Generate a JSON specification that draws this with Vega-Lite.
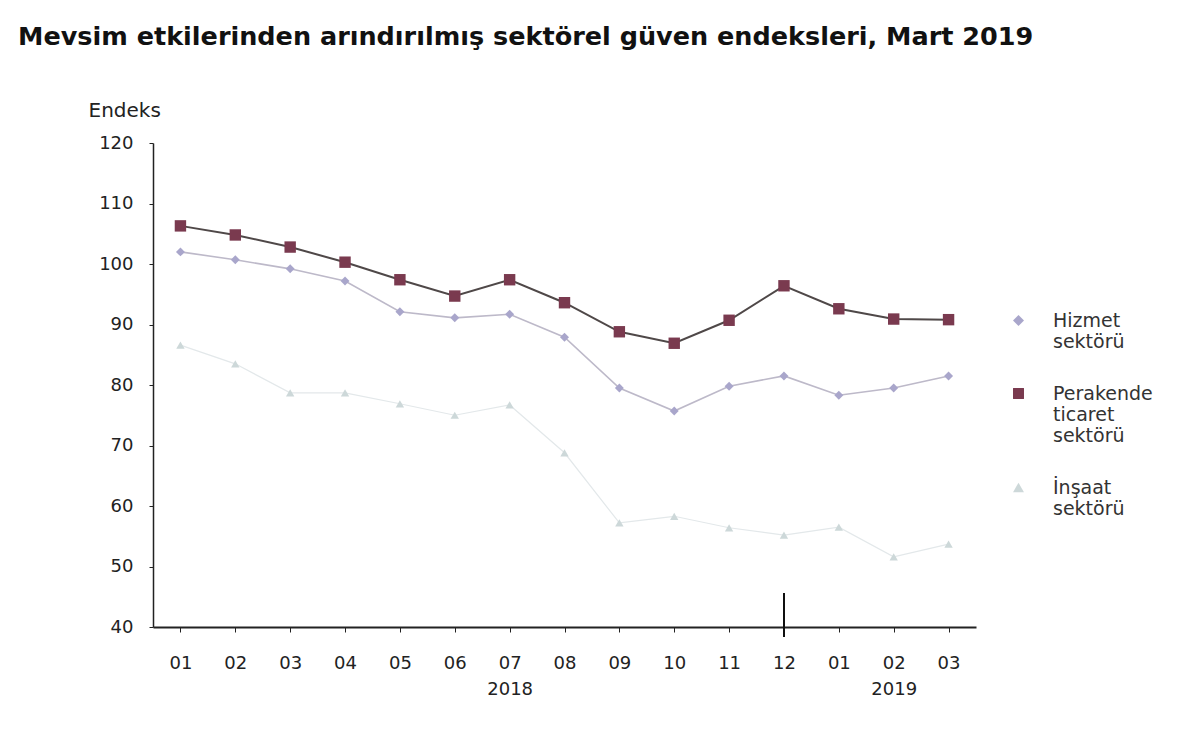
{
  "$schema": "https://vega.github.io/schema/vega-lite/v6.json",
  "autosize": {"type": "none"},
  "width": 823,
  "height": 484,
  "padding": {"left": 153, "top": 143, "right": 224, "bottom": 105},
  "background": "white",
  "title": {
    "text": "Mevsim etkilerinden arındırılmış sektörel güven endeksleri, Mart 2019",
    "anchor": "start",
    "frame": "group",
    "dx": -135,
    "offset": 50,
    "font": "DejaVu Sans",
    "fontSize": 25.5,
    "fontWeight": "bold",
    "color": "#111"
  },
  "config": {
    "view": {"stroke": null},
    "font": "DejaVu Sans"
  },
  "data": {
    "values": [
      {"m": "2018-01", "s": "Hizmet sektörü", "v": 102.0},
      {"m": "2018-02", "s": "Hizmet sektörü", "v": 100.7},
      {"m": "2018-03", "s": "Hizmet sektörü", "v": 99.2},
      {"m": "2018-04", "s": "Hizmet sektörü", "v": 97.2},
      {"m": "2018-05", "s": "Hizmet sektörü", "v": 92.1},
      {"m": "2018-06", "s": "Hizmet sektörü", "v": 91.1},
      {"m": "2018-07", "s": "Hizmet sektörü", "v": 91.7},
      {"m": "2018-08", "s": "Hizmet sektörü", "v": 87.9},
      {"m": "2018-09", "s": "Hizmet sektörü", "v": 79.5},
      {"m": "2018-10", "s": "Hizmet sektörü", "v": 75.7},
      {"m": "2018-11", "s": "Hizmet sektörü", "v": 79.8},
      {"m": "2018-12", "s": "Hizmet sektörü", "v": 81.5},
      {"m": "2019-01", "s": "Hizmet sektörü", "v": 78.3},
      {"m": "2019-02", "s": "Hizmet sektörü", "v": 79.5},
      {"m": "2019-03", "s": "Hizmet sektörü", "v": 81.5},
      {"m": "2018-01", "s": "Perakende ticaret sektörü", "v": 106.3},
      {"m": "2018-02", "s": "Perakende ticaret sektörü", "v": 104.8},
      {"m": "2018-03", "s": "Perakende ticaret sektörü", "v": 102.8},
      {"m": "2018-04", "s": "Perakende ticaret sektörü", "v": 100.3},
      {"m": "2018-05", "s": "Perakende ticaret sektörü", "v": 97.4},
      {"m": "2018-06", "s": "Perakende ticaret sektörü", "v": 94.7},
      {"m": "2018-07", "s": "Perakende ticaret sektörü", "v": 97.4},
      {"m": "2018-08", "s": "Perakende ticaret sektörü", "v": 93.6},
      {"m": "2018-09", "s": "Perakende ticaret sektörü", "v": 88.8},
      {"m": "2018-10", "s": "Perakende ticaret sektörü", "v": 86.9},
      {"m": "2018-11", "s": "Perakende ticaret sektörü", "v": 90.7},
      {"m": "2018-12", "s": "Perakende ticaret sektörü", "v": 96.4},
      {"m": "2019-01", "s": "Perakende ticaret sektörü", "v": 92.6},
      {"m": "2019-02", "s": "Perakende ticaret sektörü", "v": 90.9},
      {"m": "2019-03", "s": "Perakende ticaret sektörü", "v": 90.8},
      {"m": "2018-01", "s": "İnşaat sektörü", "v": 86.6},
      {"m": "2018-02", "s": "İnşaat sektörü", "v": 83.5},
      {"m": "2018-03", "s": "İnşaat sektörü", "v": 78.7},
      {"m": "2018-04", "s": "İnşaat sektörü", "v": 78.7},
      {"m": "2018-05", "s": "İnşaat sektörü", "v": 76.9},
      {"m": "2018-06", "s": "İnşaat sektörü", "v": 75.0},
      {"m": "2018-07", "s": "İnşaat sektörü", "v": 76.7},
      {"m": "2018-08", "s": "İnşaat sektörü", "v": 68.8},
      {"m": "2018-09", "s": "İnşaat sektörü", "v": 57.2},
      {"m": "2018-10", "s": "İnşaat sektörü", "v": 58.3},
      {"m": "2018-11", "s": "İnşaat sektörü", "v": 56.4},
      {"m": "2018-12", "s": "İnşaat sektörü", "v": 55.2},
      {"m": "2019-01", "s": "İnşaat sektörü", "v": 56.5},
      {"m": "2019-02", "s": "İnşaat sektörü", "v": 51.6},
      {"m": "2019-03", "s": "İnşaat sektörü", "v": 53.7}
    ]
  },
  "encoding": {
    "x": {
      "field": "m",
      "type": "ordinal",
      "scale": {"type": "point", "padding": 0.5},
      "axis": {
        "title": null,
        "labelAngle": 0,
        "labelExpr": "datum.value == '2018-07' ? ['07', '2018'] : datum.value == '2019-02' ? ['02', '2019'] : slice(datum.value, 5)",
        "labelFontSize": 18,
        "labelColor": "#222",
        "labelLineHeight": 26,
        "labelPadding": 22,
        "tickSize": 5,
        "tickColor": "#222",
        "domainColor": "#222",
        "domainWidth": 2
      }
    },
    "y": {
      "field": "v",
      "type": "quantitative",
      "scale": {"domain": [40, 120], "nice": false, "zero": false},
      "axis": {
        "values": [40, 50, 60, 70, 80, 90, 100, 110, 120],
        "grid": false,
        "title": "Endeks",
        "titleAngle": 0,
        "titleAlign": "left",
        "titleBaseline": "middle",
        "titleX": -65,
        "titleY": -33,
        "titleFontSize": 20,
        "titleFontWeight": "normal",
        "titleColor": "#222",
        "labelFontSize": 18,
        "labelColor": "#222",
        "labelPadding": 16,
        "tickSize": 4,
        "tickColor": "#222",
        "domainColor": "#222",
        "domainWidth": 1.5
      }
    }
  },
  "layer": [
    {
      "mark": {"type": "line"},
      "encoding": {
        "detail": {"field": "s", "type": "nominal"},
        "stroke": {
          "condition": [
            {"test": "datum.s == 'Hizmet sektörü'", "value": "#bdb9c9"},
            {"test": "datum.s == 'Perakende ticaret sektörü'", "value": "#4f4848"}
          ],
          "value": "#e3e8ea"
        },
        "strokeWidth": {
          "condition": [
            {"test": "datum.s == 'Hizmet sektörü'", "value": 1.6},
            {"test": "datum.s == 'Perakende ticaret sektörü'", "value": 2}
          ],
          "value": 1.2
        }
      }
    },
    {
      "mark": {"type": "point", "filled": true, "opacity": 1},
      "encoding": {
        "fill": {
          "field": "s",
          "type": "nominal",
          "title": null,
          "scale": {
            "domain": ["Hizmet sektörü", "Perakende ticaret sektörü", "İnşaat sektörü"],
            "range": ["#a9a6cb", "#7a3a4f", "#cdd8d9"]
          },
          "legend": {
            "orient": "none",
            "legendX": 856,
            "legendY": 168,
            "symbolSize": 120,
            "labelFontSize": 19,
            "labelColor": "#333",
            "labelOffset": 25,
            "rowPadding": 32,
            "labelExpr": "datum.label == 'Perakende ticaret sektörü' ? ['Perakende', 'ticaret', 'sektörü'] : split(datum.label, ' ')"
          }
        },
        "shape": {
          "field": "s",
          "type": "nominal",
          "title": null,
          "scale": {
            "domain": ["Hizmet sektörü", "Perakende ticaret sektörü", "İnşaat sektörü"],
            "range": ["diamond", "square", "triangle-up"]
          }
        },
        "size": {
          "condition": [
            {"test": "datum.s == 'Hizmet sektörü'", "value": 80},
            {"test": "datum.s == 'Perakende ticaret sektörü'", "value": 130}
          ],
          "value": 70
        }
      }
    },
    {
      "mark": {"type": "rule", "color": "#111", "strokeWidth": 1.2, "clip": false},
      "encoding": {
        "x": {"datum": "2018-12"},
        "y": {"datum": 45.6},
        "y2": {"datum": 38.4}
      }
    }
  ]
}
